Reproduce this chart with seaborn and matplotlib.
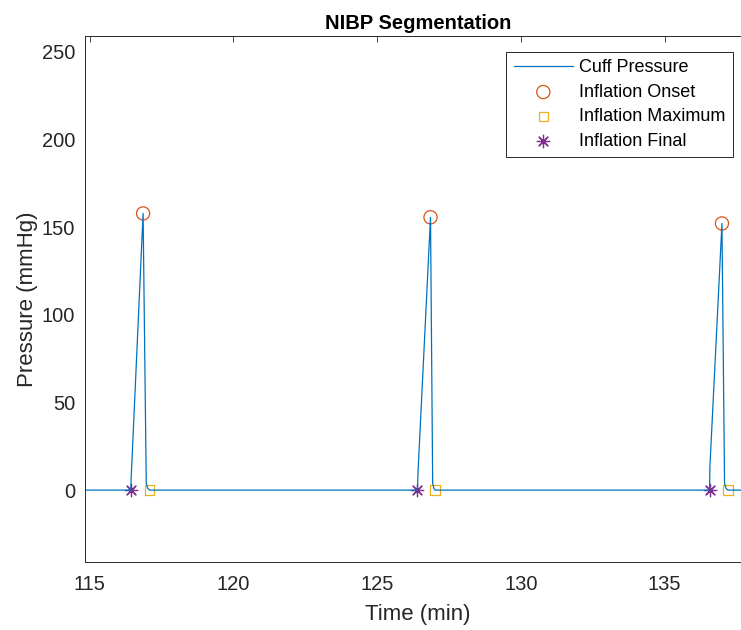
import pandas as pd
import matplotlib
matplotlib.use("Agg")
import matplotlib.pyplot as plt
import seaborn as sns

# Cuff pressure trace (time in minutes, pressure in mmHg)
time_min = [114.84, 116.43, 116.45, 116.86, 116.97, 117.02, 117.09,
            126.40, 126.42, 126.855, 126.93, 126.97, 127.01,
            136.56, 136.57, 136.99, 137.08, 137.13, 137.20, 138.0]
pressure = [0, 0, 8.5, 157.8, 4, 1, 0,
            0, 10, 155.6, 4, 1, 0,
            0, 13, 152.1, 4, 1, 0, 0]

# Segmentation markers
onset_t = [116.86, 126.855, 136.99]
onset_p = [157.8, 155.6, 152.1]
maximum_t = [117.09, 127.01, 137.20]
maximum_p = [0, 0, 0]
final_t = [116.43, 126.40, 136.56]
final_p = [0, 0, 0]

xticks = [115, 120, 125, 130, 135]
yticks = [0, 50, 100, 150, 200, 250]

sns.set_theme(style="white")
plt.rcParams['font.family'] = ['Liberation Sans', 'DejaVu Sans']

dark = '#262626'
trace = pd.DataFrame({'Time': time_min, 'Pressure': pressure})

fig = plt.figure(figsize=(7.41, 6.30), dpi=100)
ax = fig.add_axes([85 / 741, 68 / 630, 666 / 741, 526 / 630])

sns.lineplot(data=trace, x='Time', y='Pressure', sort=False, estimator=None,
             color='#0072BD', linewidth=0.9, label='Cuff Pressure', ax=ax)
sns.scatterplot(x=onset_t, y=onset_p, marker='o', s=90, facecolors='none',
                edgecolor='#D95319', linewidth=0.9, label='Inflation Onset', ax=ax)
sns.scatterplot(x=maximum_t, y=maximum_p, marker='s', s=45, facecolors='none',
                edgecolor='#EDB120', linewidth=0.9, label='Inflation Maximum', ax=ax)
sns.scatterplot(x=final_t, y=final_p, marker=(8, 2, 0), s=80, color='#7E2F8E',
                edgecolor='#7E2F8E', linewidth=0.9, label='Inflation Final', ax=ax)

ax.set_xlim(114.84, 138.0)
ax.set_ylim(-41, 259)
ax.set_xticks(xticks)
ax.set_yticks(yticks)

ax.tick_params(direction='in', top=True, right=True, length=4.5, width=0.6,
               color=dark, labelcolor=dark, labelsize=14.5)
ax.tick_params(axis='x', pad=9)
ax.tick_params(axis='y', pad=7)
for sp in ax.spines.values():
    sp.set_color(dark)
    sp.set_linewidth(0.7)

ax.set_title("NIBP Segmentation", fontsize=14.5, fontweight='bold', color='black', pad=5)
ax.set_xlabel("Time (min)", fontsize=16, color=dark)
ax.set_ylabel("Pressure (mmHg)", fontsize=16, color=dark)
ax.xaxis.set_label_coords(0.5, -0.079)
ax.yaxis.set_label_coords(-0.07, 0.5)

leg = ax.legend(loc='upper right', bbox_to_anchor=(733 / 741, 1 - 52 / 630),
                bbox_transform=fig.transFigure, borderaxespad=0, fontsize=13,
                frameon=True, fancybox=False, framealpha=1, edgecolor=dark,
                handlelength=3.3, handletextpad=0.35, labelspacing=0.42,
                borderpad=0.4, scatterpoints=1)
leg.get_frame().set_linewidth(0.7)
for t in leg.get_texts():
    t.set_color('black')

fig.savefig("out.png", dpi=100)
